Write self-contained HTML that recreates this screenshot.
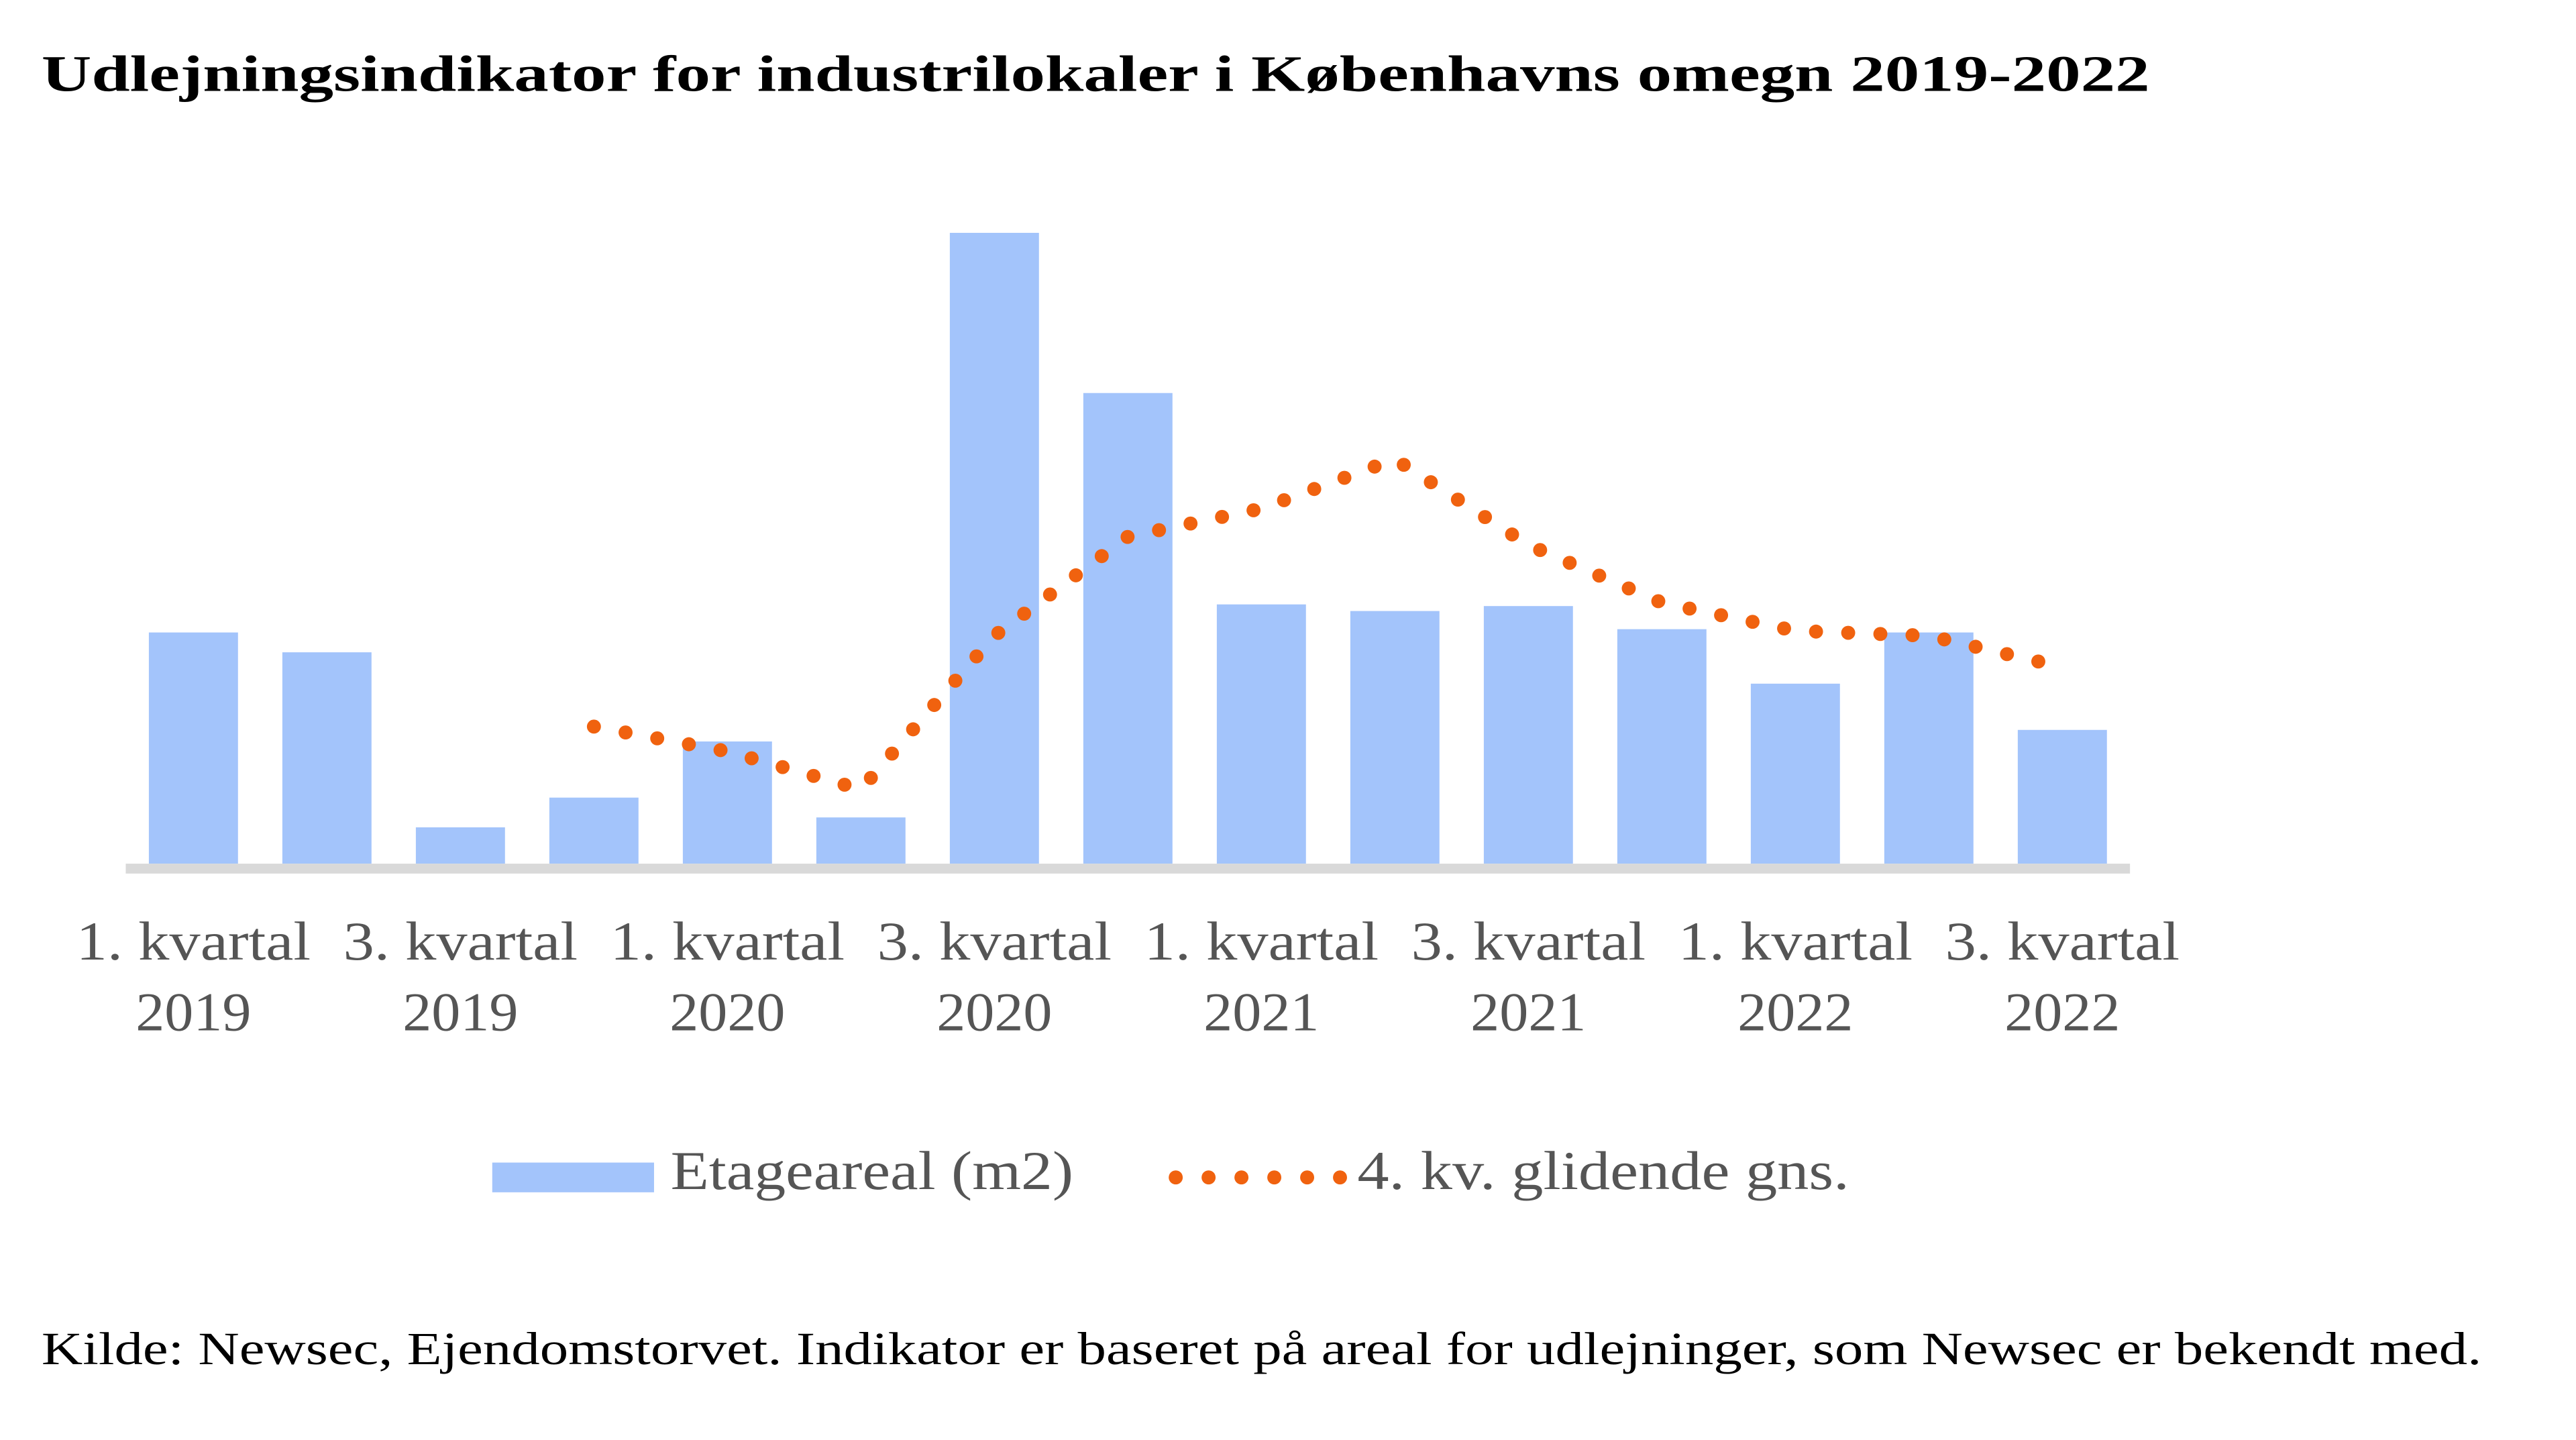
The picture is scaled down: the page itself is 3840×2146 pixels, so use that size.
<!DOCTYPE html>
<html><head><meta charset="utf-8"><style>
html,body{margin:0;padding:0;background:#fff;}
svg{display:block;}
</style></head><body>
<svg id="chart" width="3840" height="2146" viewBox="0 0 1560 872" xmlns="http://www.w3.org/2000/svg" font-family="'Liberation Serif', serif">
<text x="25" y="55" font-size="31" font-weight="bold" fill="#000" textLength="1277" lengthAdjust="spacingAndGlyphs">Udlejningsindikator for industrilokaler i Københavns omegn 2019-2022</text>
<g id="bars"></g>
<rect x="76" y="523" width="1214" height="6" fill="#d9d9d9"/>
<path id="ma" fill="none" stroke="#f0620f" stroke-width="8.5" stroke-linecap="round" stroke-dasharray="0 19.5"/>
<g id="xlabels" font-size="33" fill="#555" text-anchor="middle"></g>
<g>
<rect x="298" y="704" width="98" height="18" fill="#a3c4fb"/>
<text x="406" y="720" font-size="33" fill="#555" textLength="244" lengthAdjust="spacingAndGlyphs">Etageareal (m2)</text>
<path d="M712,713 L812.5,713" stroke="#f0620f" stroke-width="8.5" stroke-linecap="round" stroke-dasharray="0 19.9"/>
<text x="822" y="720" font-size="33" fill="#555" textLength="298" lengthAdjust="spacingAndGlyphs">4. kv. glidende gns.</text>
</g>
<text x="25" y="826" font-size="28" fill="#000" textLength="1478" lengthAdjust="spacingAndGlyphs">Kilde: Newsec, Ejendomstorvet. Indikator er baseret på areal for udlejninger, som Newsec er bekendt med.</text>
</svg>
<script>
const categories = ["1. kvartal 2019","2. kvartal 2019","3. kvartal 2019","4. kvartal 2019","1. kvartal 2020","2. kvartal 2020","3. kvartal 2020","4. kvartal 2020","1. kvartal 2021","2. kvartal 2021","3. kvartal 2021","4. kvartal 2021","1. kvartal 2022","2. kvartal 2022","3. kvartal 2022"];
const areaValues = [140,128,22,40,74,28,382,285,157,153,156,142,109,140,81];
const movingAvg = [null,null,null,83,68,45,138,198,215,245,193,158,141,138,119];
const tickLine1 = ["1. kvartal","","3. kvartal","","1. kvartal","","3. kvartal","","1. kvartal","","3. kvartal","","1. kvartal","","3. kvartal"];
const tickLine2 = ["2019","","2019","","2020","","2020","","2021","","2021","","2022","","2022"];

const NS="http://www.w3.org/2000/svg";
const x0=117, step=80.86, base=523, yScale=1.0;
function xPos(i){return x0+i*step;}
function yPos(v){return base-v*yScale;}
const bars=document.getElementById('bars');
areaValues.forEach((v,i)=>{
  const r=document.createElementNS(NS,'rect');
  
  
  r.setAttribute('x',xPos(i)-27);r.setAttribute('width',54);
  r.setAttribute('y',yPos(v));r.setAttribute('height',base-yPos(v));
  r.setAttribute('fill','#a3c4fb');
  bars.appendChild(r);
});
let d="";
movingAvg.forEach((v,i)=>{ if(v==null)return; d+=(d?" L":"M")+xPos(i)+","+yPos(v); });
document.getElementById('ma').setAttribute('d',d);
const xl=document.getElementById('xlabels');
tickLine1.forEach((t,i)=>{
  if(!t)return;
  const a=document.createElementNS(NS,'text');
  
  
  a.setAttribute('x',xPos(i));a.setAttribute('y',581);a.textContent=t;
  a.setAttribute('textLength',142);a.setAttribute('lengthAdjust','spacingAndGlyphs');
  xl.appendChild(a);
  const b=document.createElementNS(NS,'text');
  
  
  b.setAttribute('x',xPos(i));b.setAttribute('y',624);b.textContent=tickLine2[i];
  b.setAttribute('textLength',70);b.setAttribute('lengthAdjust','spacingAndGlyphs');
  xl.appendChild(b);
});
</script>
</body></html>
